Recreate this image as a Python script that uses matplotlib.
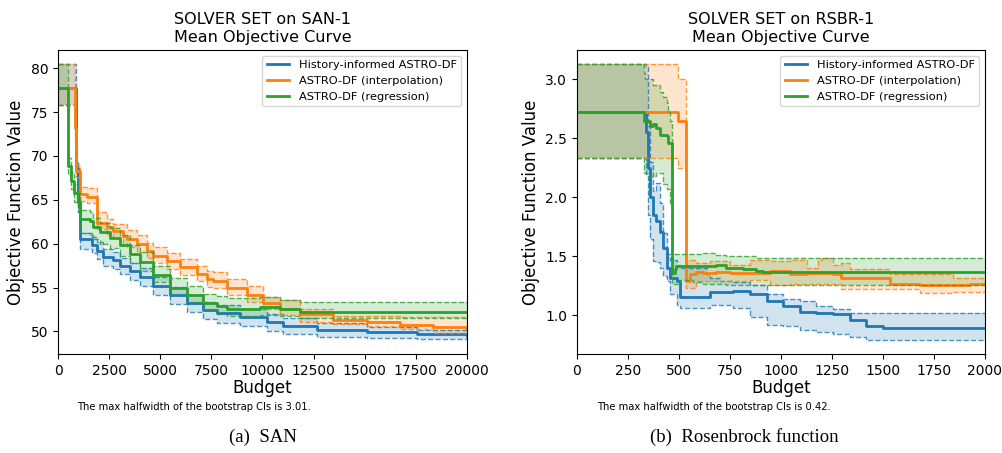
import matplotlib
matplotlib.use("Agg")
import matplotlib.pyplot as plt

# ---- SAN-1 (left panel) ----
san_hist_x = [0, 900, 1000, 1076, 1646, 1890, 2215, 2705, 3030, 3520, 4010, 4660, 5477, 6290, 7100, 7760, 8900, 10200, 11025, 12650, 15100, 17540, 20000]
san_hist_mean = [77.8, 68.6, 64.8, 60.5, 59.8, 59.2, 58.5, 58.1, 57.5, 56.9, 56.2, 55.2, 54.1, 53.2, 52.4, 52.1, 51.6, 51.1, 50.6, 50.2, 49.9, 49.7, 49.5]
san_hist_lo = [75.8, 67.7, 63.6, 59.4, 58.9, 58.2, 57.5, 57.1, 56.5, 55.9, 55.2, 54.2, 53.1, 52.2, 51.4, 51.0, 50.6, 50.1, 49.7, 49.4, 49.2, 49.1, 49.0]
san_hist_hi = [80.5, 69.5, 65.8, 61.2, 60.8, 60.2, 59.4, 59.0, 58.4, 57.8, 57.2, 56.2, 55.1, 54.2, 53.4, 53.0, 52.5, 52.0, 51.5, 51.0, 50.5, 50.2, 50.1]

san_interp_x = [0, 850, 900, 1076, 1403, 1890, 2380, 2705, 3193, 3357, 3846, 4336, 4660, 5314, 5966, 6782, 7270, 7595, 8250, 9230, 10043, 10860, 11830, 13460, 15100, 16720, 18350, 20000]
san_interp_mean = [77.8, 73.2, 68.3, 65.7, 65.3, 62.4, 61.9, 61.4, 60.9, 60.5, 60.0, 59.2, 58.6, 58.0, 57.3, 56.6, 56.0, 55.8, 55.0, 54.1, 53.2, 52.6, 52.0, 51.3, 51.1, 50.7, 50.5, 50.4]
san_interp_lo = [75.8, 71.5, 67.6, 64.9, 64.6, 61.7, 61.1, 60.6, 60.1, 59.6, 59.1, 58.4, 57.8, 57.1, 56.4, 55.8, 55.1, 55.0, 54.2, 53.3, 52.5, 51.9, 51.1, 50.9, 50.6, 50.3, 49.8, 49.5]
san_interp_hi = [80.5, 74.8, 69.0, 66.5, 66.3, 63.6, 62.8, 62.3, 62.2, 61.6, 61.0, 60.1, 59.6, 58.9, 58.3, 57.5, 56.9, 56.8, 56.0, 55.2, 53.9, 53.6, 52.6, 51.8, 51.8, 51.7, 51.7, 51.6]

san_regr_x = [0, 500, 650, 800, 1000, 1076, 1565, 1727, 2054, 2543, 3030, 3520, 4010, 4660, 5477, 6290, 7100, 7760, 8250, 9880, 10860, 11830, 20000]
san_regr_mean = [77.8, 68.9, 67.2, 65.8, 64.7, 62.8, 62.6, 61.9, 61.3, 60.7, 59.8, 58.8, 57.9, 56.4, 55.0, 54.1, 53.2, 52.9, 52.6, 52.8, 52.6, 52.2, 52.2]
san_regr_lo = [75.8, 67.8, 66.2, 64.8, 63.6, 61.2, 61.0, 60.5, 60.0, 59.5, 58.6, 57.8, 56.9, 55.6, 54.2, 53.3, 52.4, 52.0, 51.8, 51.9, 51.8, 51.5, 51.5]
san_regr_hi = [80.5, 69.8, 68.2, 66.8, 65.8, 63.8, 63.6, 62.9, 62.4, 61.8, 61.0, 59.9, 59.0, 57.5, 56.1, 55.2, 54.3, 54.0, 53.8, 53.9, 53.6, 53.3, 53.3]

# ---- RSBR-1 (right panel) ----
rsbr_hist_x = [0, 340, 350, 360, 374, 390, 407, 423, 440, 456, 489, 505, 636, 652, 700, 766, 848, 930, 1011, 1093, 1174, 1256, 1338, 1420, 1501, 2000]
rsbr_hist_mean = [2.72, 2.55, 2.25, 2.00, 1.85, 1.80, 1.71, 1.57, 1.40, 1.32, 1.29, 1.16, 1.16, 1.20, 1.20, 1.21, 1.18, 1.12, 1.08, 1.03, 1.02, 1.01, 0.96, 0.91, 0.89, 0.89]
rsbr_hist_lo = [2.33, 2.20, 1.85, 1.65, 1.46, 1.45, 1.40, 1.33, 1.29, 1.18, 1.09, 1.06, 1.06, 1.09, 1.09, 1.06, 0.99, 0.92, 0.91, 0.88, 0.86, 0.84, 0.82, 0.79, 0.79, 0.79]
rsbr_hist_hi = [3.13, 3.10, 2.60, 2.30, 2.05, 2.12, 1.95, 1.70, 1.52, 1.47, 1.43, 1.40, 1.35, 1.32, 1.29, 1.28, 1.26, 1.18, 1.14, 1.12, 1.08, 1.05, 1.02, 1.02, 1.02, 1.02]

rsbr_interp_x = [0, 497, 537, 554, 586, 619, 652, 684, 750, 848, 946, 1044, 1126, 1183, 1200, 1256, 1297, 1338, 1436, 1534, 1681, 1763, 1844, 1926, 2000]
rsbr_interp_mean = [2.72, 2.65, 1.29, 1.35, 1.37, 1.36, 1.36, 1.37, 1.36, 1.36, 1.38, 1.35, 1.36, 1.36, 1.36, 1.35, 1.32, 1.32, 1.32, 1.27, 1.26, 1.26, 1.26, 1.27, 1.27]
rsbr_interp_lo = [2.33, 2.25, 1.23, 1.23, 1.29, 1.29, 1.29, 1.29, 1.29, 1.30, 1.26, 1.27, 1.27, 1.27, 1.27, 1.27, 1.22, 1.22, 1.22, 1.22, 1.19, 1.19, 1.20, 1.20, 1.19]
rsbr_interp_hi = [3.13, 3.00, 1.47, 1.47, 1.44, 1.44, 1.46, 1.46, 1.43, 1.47, 1.46, 1.47, 1.40, 1.47, 1.49, 1.43, 1.44, 1.39, 1.39, 1.35, 1.35, 1.35, 1.32, 1.32, 1.32]

rsbr_regr_x = [0, 328, 333, 358, 374, 390, 407, 423, 440, 448, 456, 464, 480, 488, 505, 570, 619, 684, 733, 815, 880, 913, 2000]
rsbr_regr_mean = [2.72, 2.65, 2.65, 2.60, 2.62, 2.59, 2.53, 2.53, 2.52, 2.46, 2.46, 1.36, 1.39, 1.42, 1.42, 1.42, 1.42, 1.43, 1.40, 1.39, 1.38, 1.37, 1.37]
rsbr_regr_lo = [2.33, 2.21, 2.21, 2.18, 2.18, 2.21, 2.21, 2.11, 2.07, 2.07, 1.95, 1.27, 1.27, 1.27, 1.30, 1.28, 1.27, 1.27, 1.26, 1.26, 1.26, 1.26, 1.26]
rsbr_regr_hi = [3.13, 3.05, 3.00, 3.00, 2.95, 2.95, 2.89, 2.85, 2.80, 2.72, 2.65, 1.52, 1.52, 1.52, 1.52, 1.52, 1.53, 1.51, 1.50, 1.50, 1.49, 1.49, 1.49]

solver_names = ["History-informed ASTRO-DF", "ASTRO-DF (interpolation)", "ASTRO-DF (regression)"]
colors = ["C0", "C1", "C2"]


def draw_panel(ax, curves, title, xmax, xstep, ystep, note, caption, note_x, cap_x):
    for (x, m, lo, hi), name, c in zip(curves, solver_names, colors):
        ax.step(x, m, where="post", color=c, lw=2, label=name)
        ax.step(x, lo, where="post", color=c, lw=1, ls="--", alpha=0.8)
        ax.step(x, hi, where="post", color=c, lw=1, ls="--", alpha=0.8)
        ax.fill_between(x, lo, hi, step="post", color=c, alpha=0.2, lw=0)
    ax.set_xlim(0, xmax)
    ax.set_xticks(range(0, xmax + 1, xstep))
    ax.yaxis.set_major_locator(plt.MultipleLocator(ystep))
    ax.tick_params(labelsize=10)
    ax.set_title(title, fontsize=11.5)
    ax.set_xlabel("Budget", fontsize=12, labelpad=1)
    ax.set_ylabel("Objective Function Value", fontsize=12)
    ax.legend(loc="upper right", fontsize=8.2)
    fig.text(note_x, 0.096, note, fontsize=7.2)
    fig.text(cap_x, 0.025, caption, fontsize=13.5, family="Liberation Serif", ha="center")


fig = plt.figure(figsize=(10.02, 4.53), dpi=100)
ax1 = fig.add_axes([0.0579, 0.2185, 0.408, 0.671])
ax2 = fig.add_axes([0.5758, 0.2185, 0.407, 0.671])

draw_panel(ax1,
           [(san_hist_x, san_hist_mean, san_hist_lo, san_hist_hi),
            (san_interp_x, san_interp_mean, san_interp_lo, san_interp_hi),
            (san_regr_x, san_regr_mean, san_regr_lo, san_regr_hi)],
           "SOLVER SET on SAN-1\nMean Objective Curve", 20000, 2500, 5,
           "The max halfwidth of the bootstrap CIs is 3.01.", "(a)  SAN", 0.077, 0.262)
draw_panel(ax2,
           [(rsbr_hist_x, rsbr_hist_mean, rsbr_hist_lo, rsbr_hist_hi),
            (rsbr_interp_x, rsbr_interp_mean, rsbr_interp_lo, rsbr_interp_hi),
            (rsbr_regr_x, rsbr_regr_mean, rsbr_regr_lo, rsbr_regr_hi)],
           "SOLVER SET on RSBR-1\nMean Objective Curve", 2000, 250, 0.5,
           "The max halfwidth of the bootstrap CIs is 0.42.", "(b)  Rosenbrock function", 0.596, 0.743)

fig.savefig("out.png", dpi=100)
